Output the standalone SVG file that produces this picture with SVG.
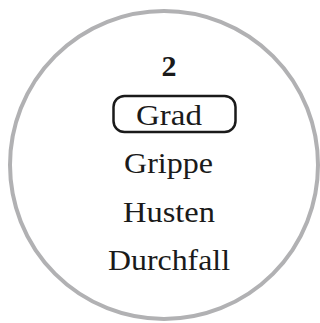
<svg xmlns="http://www.w3.org/2000/svg" width="320" height="323" viewBox="0 0 320 323">
<style>
.t{font-family:"Liberation Serif","Times New Roman",serif;font-size:30px;fill:#1a1a1a;text-anchor:middle}
</style>
<rect width="320" height="323" fill="#fff"/>
<g id="circle"><circle cx="164" cy="165" r="154" fill="#fff" stroke="#b1b1b3" stroke-width="4"/></g>
<g id="n2"><text class="t" x="169" y="76" font-weight="bold" font-size="27">2</text></g>
<g id="grad"><rect x="113.5" y="96" width="122" height="36" rx="11" fill="none" stroke="#1a1a1a" stroke-width="2.5"/><text class="t" x="169" y="125" textLength="66" lengthAdjust="spacingAndGlyphs">Grad</text></g>
<g id="grippe"><text class="t" x="168.5" y="173" textLength="89" lengthAdjust="spacingAndGlyphs">Grippe</text></g>
<g id="husten"><text class="t" x="169" y="222" textLength="92" lengthAdjust="spacingAndGlyphs">Husten</text></g>
<g id="durchfall"><text class="t" x="169" y="270" textLength="122" lengthAdjust="spacingAndGlyphs">Durchfall</text></g>
</svg>
